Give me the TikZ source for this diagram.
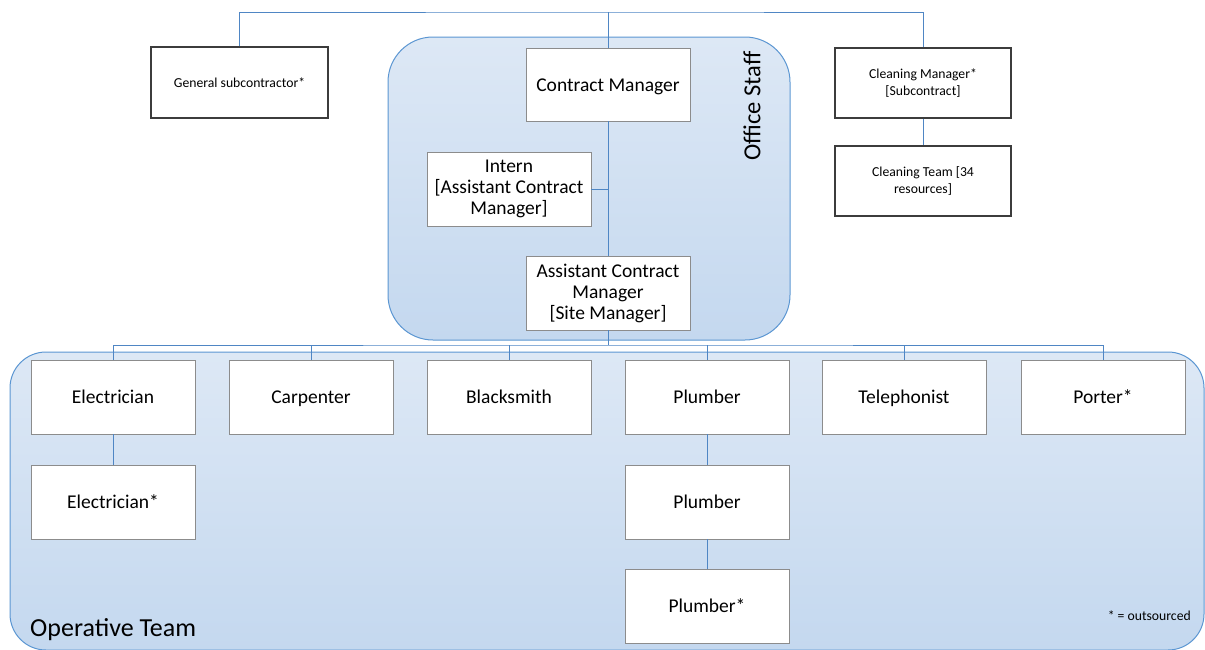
\documentclass[tikz,border=0pt]{standalone}
\usepackage{fontspec}
\setmainfont{Carlito}
\definecolor{linkblue}{RGB}{79,134,196}
\definecolor{groupedge}{RGB}{91,150,210}
\definecolor{grouptop}{RGB}{221,232,245}
\definecolor{groupbot}{RGB}{196,216,239}
\definecolor{boxedge}{RGB}{140,140,140}
\definecolor{darkedge}{RGB}{60,60,60}
\begin{document}
\begin{tikzpicture}[x=1pt,y=-1pt,
  group/.style={draw=groupedge,line width=1pt,top color=grouptop,bottom color=groupbot,inner sep=0pt},
  unit/.style={draw=boxedge,fill=white,line width=0.9pt,minimum width=164pt,minimum height=74pt,
    inner sep=0pt,align=center,font=\fontsize{19.5}{21}\selectfont},
  single/.style={text height=15.5pt,text depth=2.5pt},
  ext/.style={draw=darkedge,fill=white,line width=1.4pt,minimum width=176pt,minimum height=70pt,
    inner sep=0pt,align=center,font=\fontsize{13.7}{17}\selectfont},
  link/.style={draw=linkblue,line width=1pt}]
\useasboundingbox (0,0) rectangle (1205,649);

% group containers
\node[group,rounded corners=36pt,minimum width=1194pt,minimum height=298pt] (ops) at (607,501) {};
\node[group,rounded corners=45pt,minimum width=402pt,minimum height=303pt] (office) at (589,188.5) {};
\node[rotate=90,font=\fontsize{24.5}{26}\selectfont] (officelbl) at (752,106) {Office Staff};
\node[anchor=base west,font=\fontsize{26}{28}\selectfont,inner sep=0pt] (opslbl) at (30,636) {Operative Team};
\node[anchor=base east,font=\fontsize{13.7}{16}\selectfont,inner sep=0pt] (note) at (1191,620) {* = outsourced};

% top level
\node[ext,minimum width=177pt,minimum height=71pt] (gen) at (239.5,82.5) {General subcontractor*};
\node[ext] (clm) at (923,83) {Cleaning Manager*\\{}[Subcontract]};
\node[ext] (clt) at (923,181) {Cleaning Team [34\\resources]};

% office staff
\node[unit,single,minimum height=73pt] (cm) at (608,84.5) {Contract Manager};
\node[unit] (intern) at (509,189) {Intern\\{}[Assistant Contract\\Manager]};
\node[unit] (acm) at (608,293) {Assistant Contract\\Manager\\{}[Site Manager]};

% operative team
\node[unit,single] (el) at (113,397) {Electrician};
\node[unit,single] (ca) at (311,397) {Carpenter};
\node[unit,single] (bl) at (509,397) {Blacksmith};
\node[unit,single] (pl) at (707,397) {Plumber};
\node[unit,single] (te) at (904,397) {Telephonist};
\node[unit,single] (po) at (1103,397) {Porter*};
\node[unit,single] (el2) at (113,502) {Electrician*};
\node[unit,single] (pl2) at (707,502) {Plumber};
\node[unit,single] (pl3) at (707,606) {Plumber*};

% connectors
\coordinate (top) at (608,12);
\coordinate (bus) at (608,345);
\draw[link] (gen.north) |- (top) -| (clm.north);
\draw[link] (top) -- (cm.north);
\draw[link] (clm.south) -- (clt.north);
\draw[link] (cm.south) -- (acm.north);
\draw[link] (intern.east) -- (intern.east -| cm.south);
\draw[link] (acm.south) -- (bus);
\draw[link] (el.north) |- (bus) -| (po.north);
\draw[link] (ca.north) -- (ca.north |- bus);
\draw[link] (bl.north) -- (bl.north |- bus);
\draw[link] (pl.north) -- (pl.north |- bus);
\draw[link] (te.north) -- (te.north |- bus);
\draw[link] (el.south) -- (el2.north);
\draw[link] (pl.south) -- (pl2.north);
\draw[link] (pl2.south) -- (pl3.north);
\end{tikzpicture}
\end{document}
